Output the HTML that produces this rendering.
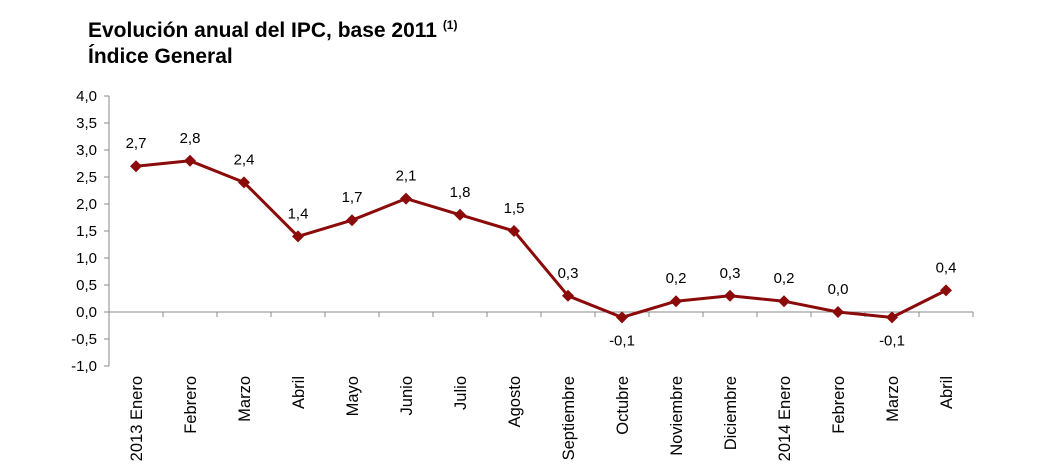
<!DOCTYPE html>
<html><head><meta charset="utf-8"><style>
body{margin:0;background:#fff;width:1047px;height:473px;overflow:hidden;font-family:"Liberation Sans",sans-serif}
.t{position:absolute;left:88px;font-weight:bold;font-size:21px;color:#000}
</style></head><body>
<div class="t" style="top:18px">Evolución anual del IPC, base 2011 <sup style="font-size:12px">(1)</sup></div>
<div class="t" style="top:45px">Índice General</div>
<svg id="c" width="1047" height="473" style="position:absolute;left:0;top:0"></svg>
<script>
const categories=["2013 Enero","Febrero","Marzo","Abril","Mayo","Junio","Julio","Agosto","Septiembre","Octubre","Noviembre","Diciembre","2014 Enero","Febrero","Marzo","Abril"];
const values=[2.7,2.8,2.4,1.4,1.7,2.1,1.8,1.5,0.3,-0.1,0.2,0.3,0.2,0.0,-0.1,0.4];
const yTicks=[4,3.5,3,2.5,2,1.5,1,0.5,0,-0.5,-1];
const svg=document.getElementById('c');const NS='http://www.w3.org/2000/svg';
const x0=109,step=54,yZero=312,unit=54;
const X=i=>x0+step*(i+0.5);
const Y=v=>yZero-v*unit;
const fmt=v=>v.toFixed(1).replace('.',',');
function mk(t,a,name){const e=document.createElementNS(NS,t);for(const k in a)e.setAttribute(k,a[k]);


svg.appendChild(e);return e;}
mk('line',{x1:x0,y1:Y(4),x2:x0,y2:Y(-1),stroke:'#888','stroke-width':1},'y-axis');
yTicks.forEach(v=>{mk('line',{x1:x0-5,y1:Y(v),x2:x0,y2:Y(v),stroke:'#888'},'y-tick');
const t=mk('text',{x:x0-12,y:Y(v)+5,'text-anchor':'end','font-size':15,fill:'#000'},'y-tick-label');t.textContent=fmt(v);});
mk('line',{x1:x0,y1:Y(0),x2:x0+step*categories.length,y2:Y(0),stroke:'#888'},'x-axis');
categories.forEach((c,i)=>{const x=X(i);
mk('line',{x1:x0+step*(i+1),y1:Y(0),x2:x0+step*(i+1),y2:Y(0)+5,stroke:'#888'},'x-tick');
const t=mk('text',{x:0,y:0,'text-anchor':'end','font-size':16.5,fill:'#000',transform:`translate(${x+6},376) rotate(-90)`},'x-tick-label');t.textContent=c;});
mk('polyline',{points:values.map((v,i)=>X(i)+','+Y(v)).join(' '),fill:'none',stroke:'#8b0a0a','stroke-width':3,'stroke-linejoin':'round'},'series-line');
values.forEach((v,i)=>{const x=X(i),y=Y(v);
mk('polygon',{points:`${x},${y-6} ${x+6},${y} ${x},${y+6} ${x-6},${y}`,fill:'#8b0a0a'},'data-point');
const t=mk('text',{x:x,y:v<0?y+28:y-18,'text-anchor':'middle','font-size':15,fill:'#000'},'data-label');t.textContent=fmt(v);});
</script>
</body></html>
